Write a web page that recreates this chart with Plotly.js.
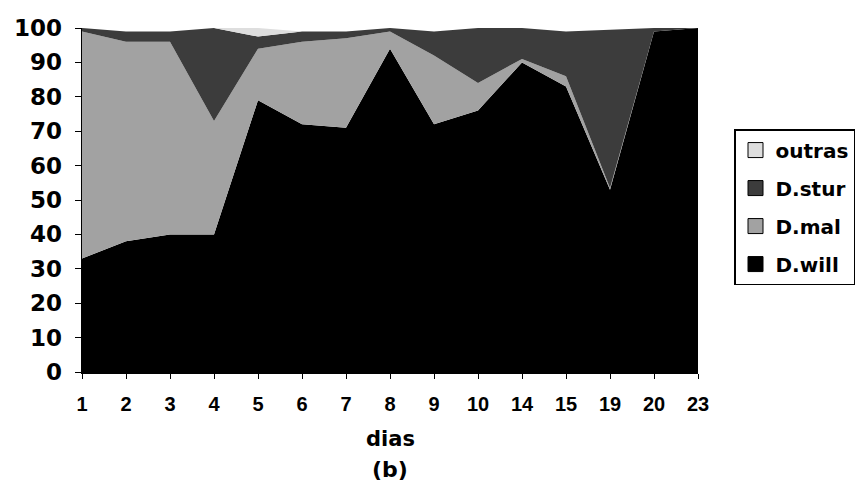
<!DOCTYPE html>
<html>
<head>
<meta charset="utf-8">
<script src="https://cdn.plot.ly/plotly-3.0.1.min.js"></script>
<style>html,body{margin:0;padding:0;background:#fff;}#chart{width:859px;height:501px;}</style>
</head>
<body>
<div id="chart"></div>
<script>
const dias = ["1","2","3","4","5","6","7","8","9","10","14","15","19","20","23"];
const dWill  = [33, 38, 40, 40, 79, 72, 71, 94, 72, 76, 90, 83, 53, 99, 100];
const dMal   = [66, 58, 56, 33, 15, 24, 26, 5, 20, 8, 1, 3, 0.5, 0, 0];
const dStur  = [1, 3, 3, 27, 3.5, 3, 2, 1, 7, 16, 9, 13, 46, 1, 0];
const outras = [0, 0, 0, 0, 2.5, 0, 0, 0, 0, 0, 0, 0, 0, 0, 0];
const seriesNames = ["D.will", "D.mal", "D.stur", "outras"];
const seriesVals = [dWill, dMal, dStur, outras];
const seriesColors = ["#000000", "#a2a2a2", "#3c3c3c", "#dedede"];

const F = "DejaVu Sans, Arial, sans-serif";
const data = [];
seriesNames.forEach((n, i) => {
  data.push({x: dias, y: seriesVals[i], name: n, type: "scatter", mode: "none",
             stackgroup: "one", fillcolor: seriesColors[i], line: {width: 0},
             showlegend: false, hoverinfo: "skip"});
});
for (let i = seriesNames.length - 1; i >= 0; i--) {
  const n = seriesNames[i];
  data.push({x: [null], y: [null], name: n, type: "scatter", mode: "markers",
             legendgroup: n,
             marker: {symbol: "square", size: 15, color: seriesColors[i],
                      line: {color: "#000", width: 1}},
             showlegend: true, hoverinfo: "skip"});
}
const layout = {
  width: 859, height: 501,
  margin: {l: 82, r: 161, t: 28, b: 129},
  paper_bgcolor: "#fff", plot_bgcolor: "#fff",
  showlegend: true,
  legend: {xref: "container", yref: "container",
           x: 0.8545, y: 0.431, xanchor: "left", yanchor: "bottom",
           bordercolor: "#000", borderwidth: 1.5, bgcolor: "#fff",
           traceorder: "grouped", tracegroupgap: 9,
           font: {family: F, size: 20, color: "#000", weight: "bold"},
           itemwidth: 30},
  xaxis: {type: "category", range: [0, 14], showgrid: false, zeroline: false,
          showline: true, linecolor: "#000", linewidth: 1.5,
          ticks: "outside", ticklen: 5, tickcolor: "#000",
          ticklabelstandoff: 8,
          tickfont: {family: "Liberation Sans, Arial, sans-serif", size: 20, color: "#000", weight: "bold"}},
  yaxis: {range: [0, 100], dtick: 10, showgrid: false, zeroline: false,
          showline: true, linecolor: "#000", linewidth: 1.5,
          ticks: "outside", ticklen: 6, tickcolor: "#000",
          ticklabelstandoff: 8,
          tickfont: {family: F, size: 23, color: "#000", weight: "bold"}},
  annotations: [
    {text: "dias", xref: "paper", yref: "paper", x: 0.5, y: -0.195,
     showarrow: false, xanchor: "center", yanchor: "middle",
     font: {family: F, size: 21, color: "#000", weight: "bold"}},
    {text: "(b)", xref: "paper", yref: "paper", x: 0.5, y: -0.282,
     showarrow: false, xanchor: "center", yanchor: "middle",
     font: {family: F, size: 22, color: "#000", weight: "bold"}}
  ]
};
Plotly.newPlot("chart", data, layout, {displayModeBar: false, staticPlot: true});
</script>
</body>
</html>
